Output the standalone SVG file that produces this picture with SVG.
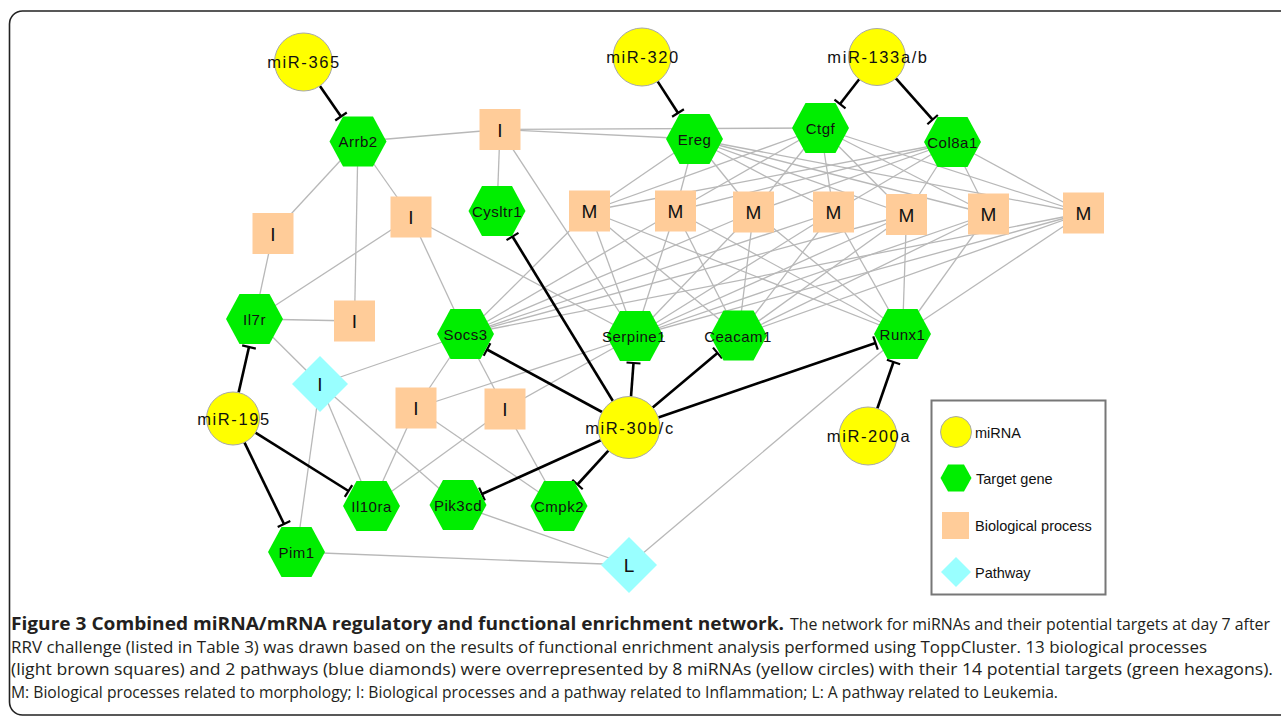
<svg xmlns="http://www.w3.org/2000/svg" xmlns:xlink="http://www.w3.org/1999/xlink" width="1281" height="718" viewBox="0 0 1281 718">
<style>
.edge{stroke:#b8b8b8;stroke-width:1.3;fill:none}
.inh{stroke:#000;stroke-width:2.6;fill:none;marker-end:url(#tee)}
.mir{fill:#ffff00;stroke:#a8a8a8;stroke-width:1}
.gene{fill:#00ee00}
.proc{fill:#ffcc99}
.path{fill:#99ffff}
.lbl{font-family:"Liberation Sans",Arial,sans-serif;font-size:15px;fill:#111;text-anchor:middle;letter-spacing:0.5px}
.mlbl{font-family:"Liberation Sans",Arial,sans-serif;font-size:16.5px;fill:#111;text-anchor:middle;letter-spacing:1.6px}
.plbl{font-family:"Liberation Sans",Arial,sans-serif;font-size:19px;fill:#111;text-anchor:middle}
.leg{font-family:"Liberation Sans",Arial,sans-serif;font-size:14.5px;fill:#111}
.cap{font-family:"Open Sans","Noto Sans",sans-serif;font-size:17px;fill:#231f20}
</style>
<defs>
<marker id="tee" markerUnits="userSpaceOnUse" markerWidth="20" markerHeight="20" viewBox="-10 -10 20 20" refX="0" refY="0" orient="auto">
<path d="M0,-7 L0,7" stroke="#000" stroke-width="2.2"/>
</marker>
<path id="hex" d="M-28.5,0 L-15,-25 L15,-25 L28.5,0 L15,25 L-15,25 Z"/>
<rect id="sq" x="-20.5" y="-20.5" width="41" height="41"/>
<path id="dia" d="M0,-28 L28,0 L0,28 L-28,0 Z"/>
</defs>
<rect x="0" y="0" width="1281" height="718" fill="#fff"/>
<rect x="9.5" y="11" width="1285" height="704" rx="13" ry="13" fill="none" stroke="#222" stroke-width="1.6"/>

<g id="connectors">
<g class="edges">
<line class="edge" x1="358" y1="141.5" x2="500" y2="129.5"/>
<line class="edge" x1="358" y1="141.5" x2="273" y2="233.5"/>
<line class="edge" x1="358" y1="141.5" x2="411" y2="217"/>
<line class="edge" x1="358" y1="141.5" x2="354.5" y2="321"/>
<line class="edge" x1="273" y1="233.5" x2="254.5" y2="319"/>
<line class="edge" x1="411" y1="217" x2="254.5" y2="319"/>
<line class="edge" x1="411" y1="217" x2="465.5" y2="334"/>
<line class="edge" x1="411" y1="217" x2="635" y2="336"/>
<line class="edge" x1="354.5" y1="321" x2="254.5" y2="319"/>
<line class="edge" x1="500" y1="129.5" x2="497" y2="211"/>
<line class="edge" x1="500" y1="129.5" x2="694.5" y2="139"/>
<line class="edge" x1="500" y1="129.5" x2="820.5" y2="128"/>
<line class="edge" x1="500" y1="129.5" x2="635" y2="336"/>
<line class="edge" x1="254.5" y1="319" x2="320" y2="384"/>
<line class="edge" x1="320" y1="384" x2="465.5" y2="334"/>
<line class="edge" x1="320" y1="384" x2="296.5" y2="552"/>
<line class="edge" x1="320" y1="384" x2="371.5" y2="506"/>
<line class="edge" x1="320" y1="384" x2="458" y2="505"/>
<line class="edge" x1="416" y1="408" x2="465.5" y2="334"/>
<line class="edge" x1="416" y1="408" x2="371.5" y2="506"/>
<line class="edge" x1="416" y1="408" x2="635" y2="336"/>
<line class="edge" x1="416" y1="408" x2="559" y2="506"/>
<line class="edge" x1="505" y1="409" x2="465.5" y2="334"/>
<line class="edge" x1="505" y1="409" x2="371.5" y2="506"/>
<line class="edge" x1="505" y1="409" x2="559" y2="506"/>
<line class="edge" x1="505" y1="409" x2="635" y2="336"/>
<line class="edge" x1="458" y1="505" x2="629" y2="565"/>
<line class="edge" x1="296.5" y1="552" x2="629" y2="565"/>
<line class="edge" x1="902.5" y1="334" x2="629" y2="565"/>
<line class="edge" x1="589.5" y1="211" x2="694.5" y2="139"/>
<line class="edge" x1="589.5" y1="211" x2="820.5" y2="128"/>
<line class="edge" x1="589.5" y1="211" x2="952.5" y2="142"/>
<line class="edge" x1="589.5" y1="211" x2="465.5" y2="334"/>
<line class="edge" x1="589.5" y1="211" x2="635" y2="336"/>
<line class="edge" x1="589.5" y1="211" x2="738.5" y2="335.5"/>
<line class="edge" x1="589.5" y1="211" x2="902.5" y2="334"/>
<line class="edge" x1="675.5" y1="211" x2="694.5" y2="139"/>
<line class="edge" x1="675.5" y1="211" x2="820.5" y2="128"/>
<line class="edge" x1="675.5" y1="211" x2="952.5" y2="142"/>
<line class="edge" x1="675.5" y1="211" x2="465.5" y2="334"/>
<line class="edge" x1="675.5" y1="211" x2="635" y2="336"/>
<line class="edge" x1="675.5" y1="211" x2="738.5" y2="335.5"/>
<line class="edge" x1="675.5" y1="211" x2="902.5" y2="334"/>
<line class="edge" x1="753.5" y1="212" x2="694.5" y2="139"/>
<line class="edge" x1="753.5" y1="212" x2="820.5" y2="128"/>
<line class="edge" x1="753.5" y1="212" x2="952.5" y2="142"/>
<line class="edge" x1="753.5" y1="212" x2="465.5" y2="334"/>
<line class="edge" x1="753.5" y1="212" x2="635" y2="336"/>
<line class="edge" x1="753.5" y1="212" x2="738.5" y2="335.5"/>
<line class="edge" x1="753.5" y1="212" x2="902.5" y2="334"/>
<line class="edge" x1="833.5" y1="212" x2="694.5" y2="139"/>
<line class="edge" x1="833.5" y1="212" x2="820.5" y2="128"/>
<line class="edge" x1="833.5" y1="212" x2="952.5" y2="142"/>
<line class="edge" x1="833.5" y1="212" x2="465.5" y2="334"/>
<line class="edge" x1="833.5" y1="212" x2="635" y2="336"/>
<line class="edge" x1="833.5" y1="212" x2="738.5" y2="335.5"/>
<line class="edge" x1="833.5" y1="212" x2="902.5" y2="334"/>
<line class="edge" x1="906.5" y1="214.5" x2="694.5" y2="139"/>
<line class="edge" x1="906.5" y1="214.5" x2="820.5" y2="128"/>
<line class="edge" x1="906.5" y1="214.5" x2="952.5" y2="142"/>
<line class="edge" x1="906.5" y1="214.5" x2="465.5" y2="334"/>
<line class="edge" x1="906.5" y1="214.5" x2="635" y2="336"/>
<line class="edge" x1="906.5" y1="214.5" x2="738.5" y2="335.5"/>
<line class="edge" x1="906.5" y1="214.5" x2="902.5" y2="334"/>
<line class="edge" x1="988.5" y1="214" x2="694.5" y2="139"/>
<line class="edge" x1="988.5" y1="214" x2="820.5" y2="128"/>
<line class="edge" x1="988.5" y1="214" x2="952.5" y2="142"/>
<line class="edge" x1="988.5" y1="214" x2="635" y2="336"/>
<line class="edge" x1="988.5" y1="214" x2="738.5" y2="335.5"/>
<line class="edge" x1="988.5" y1="214" x2="902.5" y2="334"/>
<line class="edge" x1="1083.5" y1="213" x2="694.5" y2="139"/>
<line class="edge" x1="1083.5" y1="213" x2="820.5" y2="128"/>
<line class="edge" x1="1083.5" y1="213" x2="952.5" y2="142"/>
<line class="edge" x1="1083.5" y1="213" x2="465.5" y2="334"/>
<line class="edge" x1="1083.5" y1="213" x2="635" y2="336"/>
<line class="edge" x1="1083.5" y1="213" x2="738.5" y2="335.5"/>
<line class="edge" x1="1083.5" y1="213" x2="902.5" y2="334"/>
</g>
<g class="inhibitions">
<line class="inh" x1="319.9" y1="85.9" x2="341" y2="116.5"/>
<line class="inh" x1="657.6" y1="81.4" x2="678" y2="113"/>
<line class="inh" x1="859.2" y1="79.3" x2="840" y2="104"/>
<line class="inh" x1="895.9" y1="78.3" x2="932.6" y2="119.6"/>
<line class="inh" x1="238.6" y1="392.6" x2="249" y2="347"/>
<line class="inh" x1="255.4" y1="432.7" x2="348.5" y2="491"/>
<line class="inh" x1="244.4" y1="442.4" x2="284" y2="524"/>
<line class="inh" x1="612.9" y1="401" x2="512.5" y2="236.5"/>
<line class="inh" x1="602" y1="412" x2="487" y2="349.5"/>
<line class="inh" x1="631" y1="396.6" x2="633.5" y2="363"/>
<line class="inh" x1="652.7" y1="407.6" x2="717.5" y2="353"/>
<line class="inh" x1="658.3" y1="417.5" x2="875.5" y2="343"/>
<line class="inh" x1="600.8" y1="440.3" x2="482" y2="494"/>
<line class="inh" x1="608.4" y1="450.7" x2="577.5" y2="484.5"/>
<line class="inh" x1="877.3" y1="408.5" x2="893.5" y2="362"/>
</g>
</g>

<g id="node-miR-365"><circle class="mir" cx="303.5" cy="62" r="29"/><text class="mlbl" x="304" y="68">miR-365</text></g>
<g id="node-miR-320"><circle class="mir" cx="642" cy="57" r="29"/><text class="mlbl" x="643" y="63">miR-320</text></g>
<g id="node-miR-133ab"><circle class="mir" cx="877" cy="57" r="28.5"/><text class="mlbl" x="878" y="63">miR-133a/b</text></g>
<g id="node-miR-195"><circle class="mir" cx="233" cy="418.5" r="26.5"/><text class="mlbl" x="234" y="425">miR-195</text></g>
<g id="node-miR-30bc"><circle class="mir" cx="629" cy="427.5" r="31"/><text class="mlbl" x="630" y="434">miR-30b/c</text></g>
<g id="node-miR-200a"><circle class="mir" cx="868" cy="436" r="29"/><text class="mlbl" x="869" y="442">miR-200a</text></g>

<g id="node-Arrb2"><use xlink:href="#hex" class="gene" x="358" y="141.5"/><text class="lbl" x="358" y="147">Arrb2</text></g>
<g id="node-Ereg"><use xlink:href="#hex" class="gene" x="694.5" y="139"/><text class="lbl" x="694.5" y="145">Ereg</text></g>
<g id="node-Ctgf"><use xlink:href="#hex" class="gene" x="820.5" y="128"/><text class="lbl" x="820.5" y="134">Ctgf</text></g>
<g id="node-Col8a1"><use xlink:href="#hex" class="gene" x="952.5" y="142"/><text class="lbl" x="952.5" y="148">Col8a1</text></g>
<g id="node-Cysltr1"><use xlink:href="#hex" class="gene" x="497" y="211"/><text class="lbl" x="497" y="217">Cysltr1</text></g>
<g id="node-Il7r"><use xlink:href="#hex" class="gene" x="254.5" y="319"/><text class="lbl" x="254.5" y="325">Il7r</text></g>
<g id="node-Socs3"><use xlink:href="#hex" class="gene" x="465.5" y="334"/><text class="lbl" x="465.5" y="340">Socs3</text></g>
<g id="node-Serpine1"><use xlink:href="#hex" class="gene" x="635" y="336"/><text class="lbl" x="634" y="342">Serpine1</text></g>
<g id="node-Ceacam1"><use xlink:href="#hex" class="gene" x="738.5" y="335.5"/><text class="lbl" x="738" y="341.5">Ceacam1</text></g>
<g id="node-Runx1"><use xlink:href="#hex" class="gene" x="902.5" y="334"/><text class="lbl" x="902.5" y="340">Runx1</text></g>
<g id="node-Il10ra"><use xlink:href="#hex" class="gene" x="371.5" y="506"/><text class="lbl" x="371.5" y="512">Il10ra</text></g>
<g id="node-Pik3cd"><use xlink:href="#hex" class="gene" x="458" y="505"/><text class="lbl" x="458" y="511">Pik3cd</text></g>
<g id="node-Cmpk2"><use xlink:href="#hex" class="gene" x="559" y="506"/><text class="lbl" x="559" y="512">Cmpk2</text></g>
<g id="node-Pim1"><use xlink:href="#hex" class="gene" x="296.5" y="552"/><text class="lbl" x="296.5" y="558">Pim1</text></g>

<g id="node-I-top"><use xlink:href="#sq" class="proc" x="500" y="129.5"/><text class="plbl" x="500" y="136.5">I</text></g>
<g id="node-I-1"><use xlink:href="#sq" class="proc" x="273" y="233.5"/><text class="plbl" x="273" y="240.5">I</text></g>
<g id="node-I-2"><use xlink:href="#sq" class="proc" x="411" y="217"/><text class="plbl" x="411" y="224">I</text></g>
<g id="node-I-3"><use xlink:href="#sq" class="proc" x="354.5" y="321"/><text class="plbl" x="354.5" y="328">I</text></g>
<g id="node-I-4"><use xlink:href="#sq" class="proc" x="416" y="408"/><text class="plbl" x="416" y="415">I</text></g>
<g id="node-I-5"><use xlink:href="#sq" class="proc" x="505" y="409"/><text class="plbl" x="505" y="416">I</text></g>
<g id="node-M-1"><use xlink:href="#sq" class="proc" x="589.5" y="211"/><text class="plbl" x="589.5" y="218">M</text></g>
<g id="node-M-2"><use xlink:href="#sq" class="proc" x="675.5" y="211"/><text class="plbl" x="675.5" y="218">M</text></g>
<g id="node-M-3"><use xlink:href="#sq" class="proc" x="753.5" y="212"/><text class="plbl" x="753.5" y="219">M</text></g>
<g id="node-M-4"><use xlink:href="#sq" class="proc" x="833.5" y="212"/><text class="plbl" x="833.5" y="219">M</text></g>
<g id="node-M-5"><use xlink:href="#sq" class="proc" x="906.5" y="214.5"/><text class="plbl" x="906.5" y="221.5">M</text></g>
<g id="node-M-6"><use xlink:href="#sq" class="proc" x="988.5" y="214"/><text class="plbl" x="988.5" y="221">M</text></g>
<g id="node-M-7"><use xlink:href="#sq" class="proc" x="1083.5" y="213"/><text class="plbl" x="1083.5" y="220">M</text></g>

<g id="node-I-pathway"><use xlink:href="#dia" class="path" x="320" y="384"/><text class="plbl" x="320" y="391">I</text></g>
<g id="node-L-pathway"><use xlink:href="#dia" class="path" x="629" y="565"/><text class="plbl" x="629" y="572">L</text></g>

<g id="legend">
<rect x="931.5" y="400.5" width="174" height="194" fill="#fff" stroke="#777" stroke-width="2"/>
<circle class="mir" cx="956" cy="432" r="15.5"/>
<text class="leg" x="975" y="438">miRNA</text>
<path class="gene" d="M940.5,478 L948,464.5 L964,464.5 L971.5,478 L964,491.5 L948,491.5 Z"/>
<text class="leg" x="976" y="484">Target gene</text>
<rect class="proc" x="942" y="512" width="27" height="27"/>
<text class="leg" x="975" y="531">Biological process</text>
<path class="path" d="M956,557 L971,572 L956,587 L941,572 Z"/>
<text class="leg" x="975" y="578">Pathway</text>
</g>

<g id="caption">
<text class="cap" x="11" y="630" font-weight="bold" textLength="773" lengthAdjust="spacingAndGlyphs">Figure 3 Combined miRNA/mRNA regulatory and functional enrichment network.</text>
<text class="cap" x="790" y="630" font-size="15.5" textLength="480" lengthAdjust="spacingAndGlyphs">The network for miRNAs and their potential targets at day 7 after</text>
<text class="cap" x="11" y="652.5" textLength="1196" lengthAdjust="spacingAndGlyphs">RRV challenge (listed in Table 3) was drawn based on the results of functional enrichment analysis performed using ToppCluster. 13 biological processes</text>
<text class="cap" x="11" y="675" textLength="1262" lengthAdjust="spacingAndGlyphs">(light brown squares) and 2 pathways (blue diamonds) were overrepresented by 8 miRNAs (yellow circles) with their 14 potential targets (green hexagons).</text>
<text class="cap" x="11" y="697.5" textLength="1047" lengthAdjust="spacingAndGlyphs">M: Biological processes related to morphology; I: Biological processes and a pathway related to Inflammation; L: A pathway related to Leukemia.</text>
</g>
</svg>
